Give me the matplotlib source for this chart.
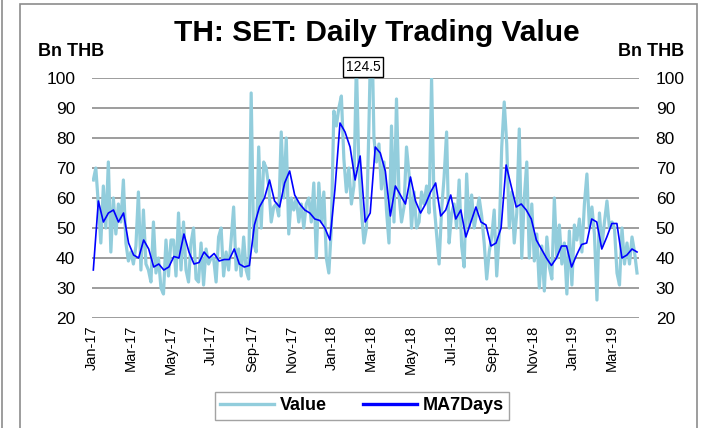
import matplotlib.pyplot as plt
import matplotlib.dates as mdates
import pandas as pd
from matplotlib.patches import Rectangle

plt.rcParams['font.family'] = ['Liberation Sans', 'DejaVu Sans']

# daily trading value, Bn THB (~every 4 days)
value = [
    66, 70, 58, 45, 64, 50, 72, 42, 60, 48, 58, 52, 66, 45, 39, 42,      # Jan-17
    38, 44, 62, 36, 56, 38, 36, 32, 52, 35, 40, 30, 28, 46, 34, 46,      # Mar-17
    46, 34, 55, 36, 52, 36, 32, 45, 50, 33, 32, 45, 31, 43, 38, 40,      # May-17
    40, 32, 47, 50, 34, 42, 36, 46, 57, 36, 43, 34, 47, 36, 33, 95,      # Jul-17
    45, 42, 77, 50, 72, 70, 64, 52, 57, 58, 54, 82, 60, 80, 48, 60,      # Sep-17
    56, 60, 52, 58, 50, 58, 60, 52, 65, 40, 65, 52, 62, 40, 35, 50,      # Nov-17
    89, 84, 90, 94, 73, 62, 70, 58, 64, 105, 70, 56, 45, 50, 84, 124.5,  # Jan-18
    80, 72, 78, 63, 72, 56, 45, 84, 52, 93, 61, 52, 57, 77, 68, 50,      # Mar-18
    62, 50, 52, 62, 58, 64, 55, 100, 58, 48, 38, 56, 67, 82, 45, 55,     # May-18
    58, 50, 66, 44, 37, 68, 50, 61, 50, 55, 60, 54, 45, 33, 42, 47,      # Jul-18
    56, 34, 48, 77, 92, 78, 50, 62, 45, 55, 83, 40, 60, 72, 40, 58,      # Sep-18
    39, 48, 30, 44, 29, 47, 37, 33, 60, 40, 51, 38, 45, 28, 49, 31,      # Nov-18
    51, 46, 53, 42, 58, 68, 50, 57, 48, 26, 55, 44, 52, 59, 50, 52,      # Jan-19
    50, 35, 31, 50, 38, 45, 38, 47, 42, 35,                              # Mar-19
]

# 7-day moving average (~every 8 days)
ma7 = [
    36, 59, 52, 55, 56, 52, 55, 45,
    41, 40, 46, 43, 37, 38, 36, 37,
    40.5, 40, 48, 42, 38, 38.5, 42, 40,
    41.5, 39, 39.5, 39.5, 43, 38, 37, 37.5,
    51, 57, 60, 66, 59, 57, 65, 69,
    61, 58, 56, 55, 53, 52.5, 50, 46,
    63, 85, 82, 77, 66, 74, 52, 55,
    77, 75, 69, 54, 64, 61, 58, 67,
    59, 55, 58, 62, 65, 54, 56, 61,
    53, 56, 47, 52, 57, 52, 51, 44,
    45, 50, 71, 64, 57, 58, 56, 53,
    46, 43, 40, 37.5, 40, 44, 44, 37,
    41, 44.5, 45, 53, 52, 43, 47, 51.5,
    51.5, 40, 41, 43, 42,
]

start, end = '2017-01-03', '2019-04-09'
value_dates = pd.date_range(start, end, periods=len(value))
ma_dates = pd.date_range(start, end, periods=len(ma7))

fig = plt.figure(figsize=(7.05, 4.28), dpi=100)
ax = fig.add_axes([92 / 705, 1 - 318 / 428, 547 / 705, 240 / 428])

ax.plot(value_dates, value, color='#92CDDC', lw=2.3, label='Value')
ax.plot(ma_dates, ma7, color='#0000FF', lw=1.2, label='MA7Days')

ax.set_ylim(20, 100)
ax.set_yticks(range(20, 101, 10))
ax.set_xlim(pd.Timestamp('2017-01-01'), pd.Timestamp('2019-04-12'))
ax.xaxis.set_major_locator(mdates.MonthLocator(bymonth=[1, 3, 5, 7, 9, 11]))
ax.xaxis.set_major_formatter(mdates.DateFormatter('%b-%y'))

ax.grid(axis='y', color='#8c8c8c', lw=1.2)
ax.set_axisbelow(True)
for s in ax.spines.values():
    s.set_visible(False)
ax.tick_params(axis='y', length=0, labelsize=12.5, labelleft=True, labelright=True, pad=12)
ax.tick_params(axis='x', length=0, labelsize=10.5, rotation=90, pad=5)

# peak label above the clipped spike
imax = value.index(max(value))
ax.annotate(f'{max(value)}', xy=(value_dates[imax], 100), xytext=(-6, 3),
            textcoords='offset points', ha='center', va='bottom', fontsize=10,
            bbox=dict(boxstyle='square,pad=0.2', fc='white', ec='black', lw=1),
            annotation_clip=False)

fig.text(0.535, 0.922, 'TH: SET: Daily Trading Value', ha='center', va='center',
         fontsize=21.5, fontweight='bold')
fig.text(71.5 / 705, 1 - 51.5 / 428, 'Bn THB', ha='center', va='center', fontsize=13, fontweight='bold')
fig.text(651 / 705, 1 - 51.5 / 428, 'Bn THB', ha='center', va='center', fontsize=13, fontweight='bold')

leg = fig.legend(loc='center', bbox_to_anchor=(362 / 705, 1 - 406 / 428), ncol=2,
                 prop={'weight': 'bold', 'size': 13}, frameon=True, fancybox=False,
                 handlelength=3.0, columnspacing=2.0, handletextpad=0.3, borderpad=0.3)
leg.get_frame().set_edgecolor('#8c8c8c')
leg.get_frame().set_linewidth(1)
for h in leg.get_lines():
    h.set_linewidth(2.4)

# chart frame
fig.patches.append(Rectangle((20 / 705, -0.1), 677 / 705, 1.1 - 4 / 428, transform=fig.transFigure,
                             fill=False, ec='#8c8c8c', lw=1.2))
fig.lines.append(plt.Line2D([2 / 705, 2 / 705], [0, 1], transform=fig.transFigure, color='#8c8c8c', lw=1.2))

fig.savefig('out.png', dpi=100)
